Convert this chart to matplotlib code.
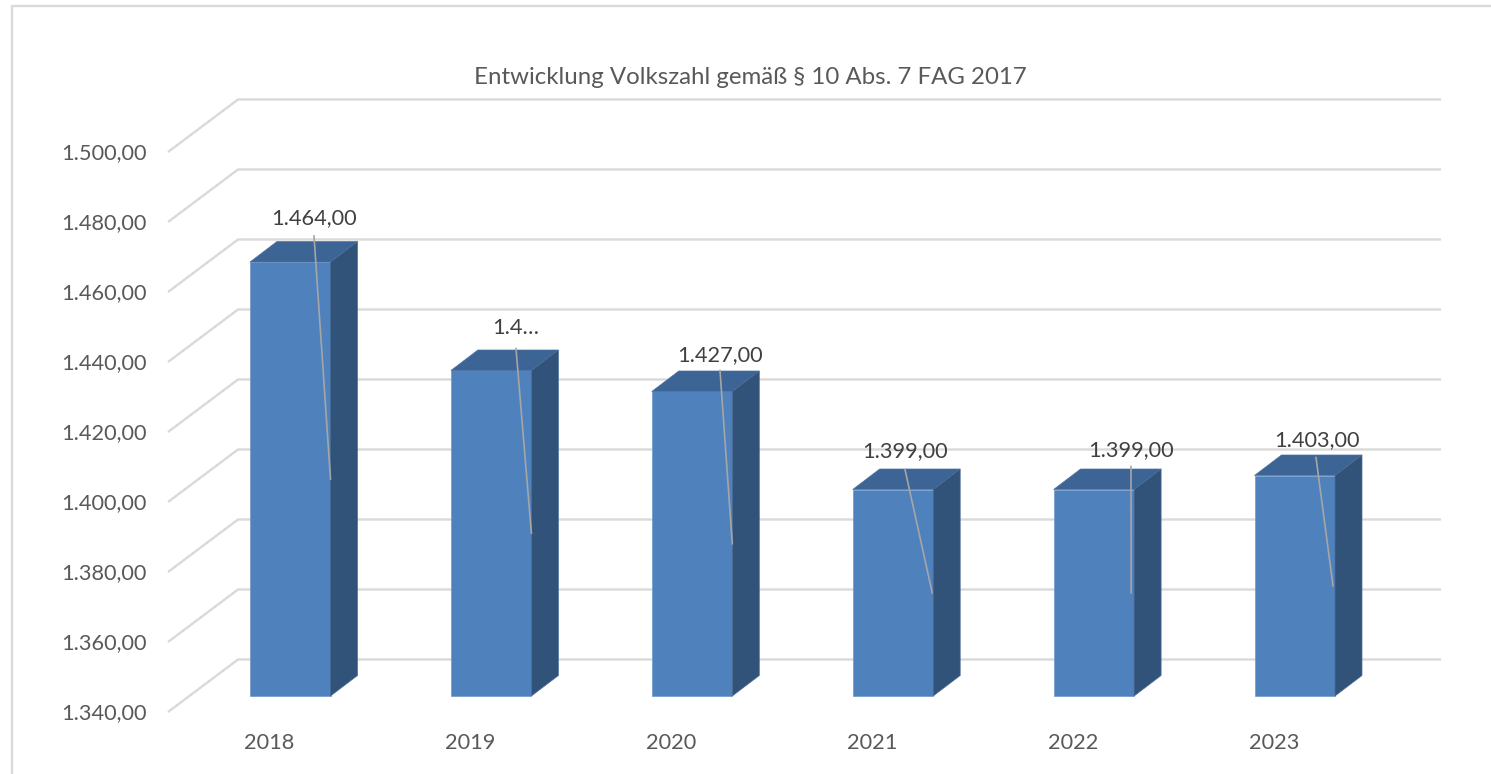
import matplotlib
matplotlib.use("Agg")
import matplotlib.pyplot as plt
from matplotlib.patches import Polygon

plt.rcParams['font.family'] = ['Lato', 'DejaVu Sans']

# --- data ---
years = ['2018', '2019', '2020', '2021', '2022', '2023']
values = [1464, 1433, 1427, 1399, 1399, 1403]
data_labels = ['1.464,00', '1.4…', '1.427,00', '1.399,00', '1.399,00', '1.403,00']
axis_ticks = [1340, 1360, 1380, 1400, 1420, 1440, 1460, 1480, 1500]
title = 'Entwicklung Volkszahl gemäß § 10 Abs. 7 FAG 2017'

# --- layout (pixels) ---
W, H = 1491, 774
PX = 3.5            # pixels per value unit
BASE_PX = 696       # pixel row of the axis minimum at the bar front
FIRST_LEFT, STEP, BAR_W = 250, 200.9, 80.5
DX, DY = 27, 20.5   # bar depth
label_x = [314, 516, 720, 905, 1131, 1317]
label_gap = [44, 43, 36, 38, 39, 35]      # label centre above bar front top
leader_x = [314, 516, 720, 905, 1131, 1316]
leader_gap = [26, 22, 21, 20, 23, 18]
leader_end_inset = [0, 0, 0, 1, 3, 2]

fig = plt.figure(figsize=(W / 100, H / 100), dpi=100)
ax = fig.add_axes([0, 0, 1, 1])
ax.set_xlim(0, W)
vmin = axis_ticks[0]
ax.set_ylim(vmin - (H - BASE_PX) / PX, vmin + BASE_PX / PX)
ax.axis('off')

GRID = '#D9D9D9'
FRONT, TOP, SIDE = '#4F81BD', '#3C6494', '#325379'
off = lambda px: px / PX   # pixel offset (upwards) in value units

# chart frame
ax.plot([12, 12, W], [vmin - (H - BASE_PX) / PX, vmin + off(BASE_PX - 6), vmin + off(BASE_PX - 6)],
        color=GRID, lw=1.7, zorder=1, solid_joinstyle='miter')

# wall + floor-side gridlines
for t in axis_ticks:
    ax.plot([168, 238, 1441], [t + off(-16), t + off(36.5), t + off(36.5)],
            color=GRID, lw=1.7, zorder=1, solid_joinstyle='miter', solid_capstyle='butt')
    lab = f'{t:,.2f}'.replace(',', 'X').replace('.', ',').replace('X', '.')
    ax.text(147, t + off(-17), lab, ha='right', va='center', fontsize=15.7, color='#595959')

# bars
for i, (y, v) in enumerate(zip(years, values)):
    l = FIRST_LEFT + i * STEP
    r = l + BAR_W
    ax.bar(l, v - vmin, width=BAR_W, bottom=vmin, align='edge', color=FRONT,
           edgecolor='#6E97CB', linewidth=0.5, zorder=3)
    ax.add_patch(Polygon([(l, v), (r, v), (r + DX, v + off(DY)), (l + DX, v + off(DY))],
                         closed=True, facecolor=TOP, edgecolor='#4A72A3', linewidth=0.5, zorder=3))
    ax.add_patch(Polygon([(r, v), (r + DX, v + off(DY)), (r + DX, vmin + off(DY)), (r, vmin)],
                         closed=True, facecolor=SIDE, edgecolor='#4A6C96', linewidth=0.5, zorder=3))
    ax.text(l + BAR_W / 2 - 21, vmin - off(47), y, ha='center', va='center',
            fontsize=15.7, color='#595959')
    # data label and leader line
    ax.plot([leader_x[i], r - leader_end_inset[i]],
            [v + off(leader_gap[i]), (v + vmin) / 2],
            color='#A6A6A6', lw=1.2, zorder=4)
    ax.text(label_x[i], v + off(label_gap[i]), data_labels[i], ha='center', va='center',
            fontsize=15.7, color='#404040', zorder=5)

ax.text(750.5, vmin + off(BASE_PX - 77), title, ha='center', va='center',
        fontsize=17.3, color='#595959')

fig.savefig('out.png', dpi=100, facecolor='white')
